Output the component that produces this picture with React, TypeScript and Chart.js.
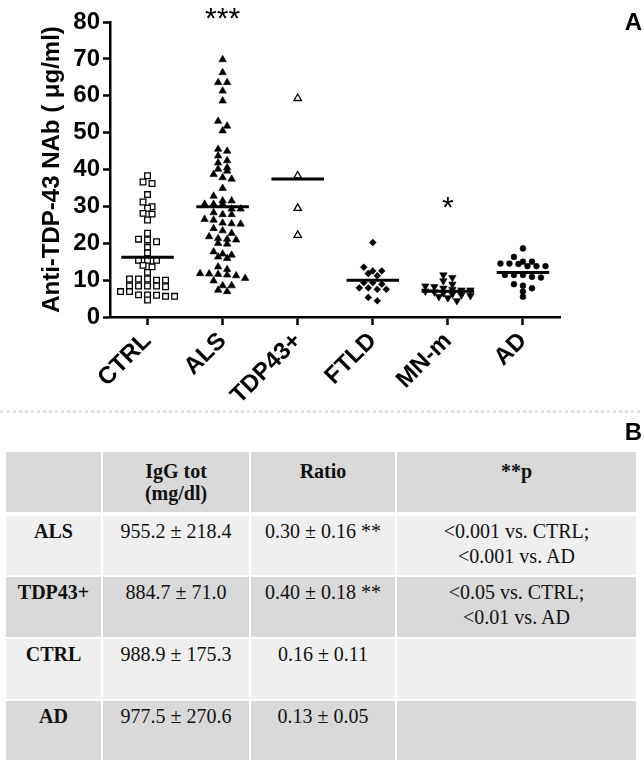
import React, { useEffect, useRef } from "react";
import { Chart, registerables } from "chart.js";

Chart.register(...registerables);

// ---------- chart data ----------
const CATEGORIES = ["CTRL", "ALS", "TDP43+", "FTLD", "MN-m", "AD"];

const CTRL_VALUES = [
  38.3, 36.6, 36.2, 33.2, 31.2, 29.9, 29.5, 28.1, 27.9, 26.3, 22.7, 21.1, 20.9, 20.4,
  18.9, 17.4, 15.4, 15.4, 15.4, 14.0, 13.6, 12.1, 10.3, 10.3, 10.0, 10.0, 10.3, 8.4,
  8.4, 8.2, 8.4, 8.4, 6.9, 6.9, 6.0, 5.9, 6.0, 5.6, 5.6, 4.6,
];

const ALS_VALUES = [
  69.8, 66.3, 63.6, 63.6, 61.3, 58.6, 53.1, 51.8, 50.5, 45.5, 45.0, 43.7, 42.4, 41.8,
  40.5, 40.1, 39.6, 38.7, 37.4, 37.8, 34.9, 32.8, 31.5, 31.5, 30.6, 30.6, 30.6, 29.3,
  29.3, 27.8, 27.8, 28.3, 26.5, 26.3, 25.5, 25.2, 25.3, 24.0, 23.4, 22.7, 21.8, 21.1,
  20.9, 21.3, 19.8, 20.0, 17.1, 16.3, 15.9, 16.8, 17.7, 12.9, 13.6, 11.2, 11.6, 11.8,
  11.4, 11.7, 10.5, 9.8, 8.5, 8.5, 6.9, 7.3,
];

const TDP43_VALUES = [59.3, 38.3, 29.5, 22.2];

const FTLD_VALUES = [20.2, 13.5, 12.5, 12.5, 11.2, 11.8, 9.3, 9.3, 8.9, 7.9, 7.5, 7.5, 7.9, 4.4, 5.3];

const MNM_VALUES = [
  11.4, 10.7, 9.8, 8.9, 8.4, 8.2, 7.8, 7.5, 7.3, 7.3, 7.0, 6.8, 6.5, 6.2, 6.0, 5.8, 5.5,
  5.2, 4.4,
];

const AD_VALUES = [
  18.6, 16.3, 15.0, 15.0, 14.5, 14.5, 14.4, 13.8, 13.8, 13.8, 10.7, 11.4, 11.4, 11.4,
  10.9, 8.9, 8.5, 7.8, 6.9, 5.5,
];

const GROUP_MEANS = [16.2, 29.9, 37.4, 10.0, 7.0, 12.1];

const Y_TICKS = [0, 10, 20, 30, 40, 50, 60, 70, 80];

const SIGNIFICANCE = ["", "***", "", "", "*", ""];
const SIGNIFICANCE_LEVEL = [0, 80.5, 0, 0, 29.3, 0];

const Y_TITLE = "Anti-TDP-43 NAb ( μg/ml)";

// ---------- table data ----------
const TABLE_HEADER = [[""], ["IgG tot", "(mg/dl)"], ["Ratio"], ["**p"]];
const TABLE_GROUPS = ["ALS", "TDP43+", "CTRL", "AD"];
const TABLE_IGG = ["955.2 ± 218.4", "884.7 ± 71.0", "988.9 ± 175.3", "977.5 ± 270.6"];
const TABLE_RATIO = ["0.30 ± 0.16 **", "0.40 ± 0.18 **", "0.16 ± 0.11", "0.13 ± 0.05"];
const TABLE_P = [
  ["<0.001 vs. CTRL;", "<0.001 vs. AD"],
  ["<0.05 vs. CTRL;", "<0.01 vs. AD"],
  [],
  [],
];

// ---------- layout / style ----------
const SANS = '"Liberation Sans", Arial, Helvetica, sans-serif';
const SERIF = '"Liberation Serif", "Times New Roman", Times, serif';
const CANVAS_W = 644;
const CANVAS_H = 410;
const SWARM_STEP = 0.12;
const SWARM_BIN = 1.35;
const MEAN_HALF = 0.35;

function swarm(values: number[], center: number) {
  const sorted = [...values].sort((a, b) => b - a);
  const pts: { x: number; y: number }[] = [];
  let row: number[] = [];
  const flush = () => {
    row.forEach((v, k) => pts.push({ x: center + (k - (row.length - 1) / 2) * SWARM_STEP, y: v }));
    row = [];
  };
  for (const v of sorted) {
    if (row.length && row[0] - v > SWARM_BIN) flush();
    row.push(v);
  }
  flush();
  return pts;
}

const SERIES = [CTRL_VALUES, ALS_VALUES, TDP43_VALUES, FTLD_VALUES, MNM_VALUES, AD_VALUES];
const MARKERS = [
  { pointStyle: "rect", pointRadius: 4, fill: "#ffffff", rotation: 0 },
  { pointStyle: "triangle", pointRadius: 4.3, fill: "#000000", rotation: 0 },
  { pointStyle: "triangle", pointRadius: 4.3, fill: "#ffffff", rotation: 0 },
  { pointStyle: "rectRot", pointRadius: 3.4, fill: "#000000", rotation: 0 },
  { pointStyle: "triangle", pointRadius: 4.3, fill: "#000000", rotation: 180 },
  { pointStyle: "circle", pointRadius: 2.9, fill: "#000000", rotation: 0 },
];

const sigPlugin = {
  id: "sigPlugin",
  afterDatasetsDraw(chart: any) {
    const { ctx, scales } = chart;
    ctx.save();
    ctx.font = `30px ${SANS}`;
    ctx.fillStyle = "#000";
    ctx.textAlign = "center";
    ctx.textBaseline = "middle";
    SIGNIFICANCE.forEach((s, i) => {
      if (!s) return;
      ctx.fillText(s, scales.x.getPixelForValue(i), scales.y.getPixelForValue(SIGNIFICANCE_LEVEL[i]));
    });
    ctx.restore();
  },
};

export default function App() {
  const ref = useRef<HTMLCanvasElement>(null);

  useEffect(() => {
    if (!ref.current) return;
    const pointSets: any[] = SERIES.map((vals, i) => ({
      type: "scatter",
      label: CATEGORIES[i],
      data: swarm(vals, i),
      pointStyle: MARKERS[i].pointStyle,
      pointRadius: MARKERS[i].pointRadius,
      pointRotation: MARKERS[i].rotation,
      pointBackgroundColor: MARKERS[i].fill,
      pointBorderColor: "#000",
      pointBorderWidth: MARKERS[i].fill === "#ffffff" ? 1.3 : 0.6,
      showLine: false,
      order: 2,
    }));
    const meanSets: any[] = GROUP_MEANS.map((m, i) => ({
      type: "line",
      label: CATEGORIES[i] + " mean",
      data: [
        { x: i - MEAN_HALF, y: m },
        { x: i + MEAN_HALF, y: m },
      ],
      borderColor: "#000",
      borderWidth: 3,
      pointRadius: 0,
      showLine: true,
      fill: false,
      order: 1,
    }));

    const chart = new Chart(ref.current, {
      type: "scatter",
      data: { datasets: [...meanSets, ...pointSets] },
      options: {
        animation: false,
        responsive: false,
        events: [],
        layout: { padding: { top: 22, right: 83.5, left: 0, bottom: 0 } },
        plugins: { legend: { display: false }, tooltip: { enabled: false } },
        scales: {
          x: {
            type: "linear",
            min: -0.5,
            max: 5.5,
            afterBuildTicks: (s: any) => {
              s.ticks = CATEGORIES.map((_, i) => ({ value: i }));
            },
            afterFit: (s: any) => {
              s.height = 93;
            },
            ticks: {
              callback: (v: any) => CATEGORIES[Math.round(Number(v))] ?? "",
              font: { family: SANS, size: 24, weight: "bold" },
              color: "#000",
              minRotation: 45,
              maxRotation: 45,
              padding: 2,
              autoSkip: false,
            },
            grid: {
              display: true,
              drawOnChartArea: false,
              drawTicks: true,
              tickLength: 8,
              tickWidth: 2.5,
              tickColor: "#000",
            },
            border: { display: true, color: "#000", width: 2.5 },
          },
          y: {
            type: "linear",
            min: 0,
            max: 80,
            afterBuildTicks: (s: any) => {
              s.ticks = Y_TICKS.map((v) => ({ value: v }));
            },
            afterFit: (s: any) => {
              s.width = 110;
            },
            ticks: {
              font: { family: SANS, size: 24, weight: "bold" },
              color: "#000",
              padding: 3,
            },
            grid: {
              display: true,
              drawOnChartArea: false,
              drawTicks: true,
              tickLength: 7,
              tickWidth: 2.5,
              tickColor: "#000",
            },
            border: { display: true, color: "#000", width: 2.5 },
            title: {
              display: true,
              text: Y_TITLE,
              font: { family: SANS, size: 24, weight: "bold", lineHeight: 1.2 },
              color: "#000",
              padding: { top: 38, bottom: 0 },
            },
          },
        },
      },
      plugins: [sigPlugin],
    } as any);
    return () => chart.destroy();
  }, []);

  const COL_X = [6, 103, 251, 397];
  const COL_W = [95, 146, 144, 239];
  const ROW_Y = [452, 516, 577, 639, 701];
  const ROW_H = [60, 59, 60, 60, 59];
  const ROW_BG = ["#d9d9d9", "#efefef", "#d9d9d9", "#efefef", "#d9d9d9"];

  const cell = (r: number, c: number, lines: string[], bold: boolean, header: boolean) => (
    <div
      key={`${r}-${c}`}
      style={{
        position: "absolute",
        left: COL_X[c],
        top: ROW_Y[r],
        width: COL_W[c],
        height: ROW_H[r],
        background: ROW_BG[r],
        boxSizing: "border-box",
        paddingTop: header ? 8 : 3,
        textAlign: "center",
        fontFamily: SERIF,
        fontSize: 20,
        lineHeight: header ? "22px" : "25px",
        fontWeight: bold ? "bold" : "normal",
        color: "#111",
        whiteSpace: "nowrap",
      }}
    >
      {lines.map((l, k) => (
        <div key={k}>{l}</div>
      ))}
    </div>
  );

  const cells: React.ReactNode[] = [];
  TABLE_HEADER.forEach((lines, c) => cells.push(cell(0, c, lines, true, true)));
  TABLE_GROUPS.forEach((g, i) => {
    cells.push(cell(i + 1, 0, [g], true, false));
    cells.push(cell(i + 1, 1, [TABLE_IGG[i]], false, false));
    cells.push(cell(i + 1, 2, [TABLE_RATIO[i]], false, false));
    cells.push(cell(i + 1, 3, TABLE_P[i], false, false));
  });

  return (
    <div
      style={{
        position: "absolute",
        left: 0,
        top: 0,
        width: 644,
        height: 762,
        background: "#ffffff",
        overflow: "hidden",
      }}
    >
      <canvas
        ref={ref}
        width={CANVAS_W}
        height={CANVAS_H}
        style={{ position: "absolute", left: 0, top: 0, display: "block" }}
      />
      <div
        style={{
          position: "absolute",
          right: 2,
          top: 8,
          fontFamily: SANS,
          fontWeight: "bold",
          fontSize: 24,
          lineHeight: "28px",
          color: "#000",
        }}
      >
        A
      </div>
      <div
        style={{
          position: "absolute",
          left: 0,
          top: 410,
          width: 640,
          height: 0,
          borderTop: "3px dotted #e4e4e4",
        }}
      />
      <div
        style={{
          position: "absolute",
          right: 2,
          top: 418,
          fontFamily: SANS,
          fontWeight: "bold",
          fontSize: 24,
          lineHeight: "28px",
          color: "#000",
        }}
      >
        B
      </div>
      {cells}
    </div>
  );
}
